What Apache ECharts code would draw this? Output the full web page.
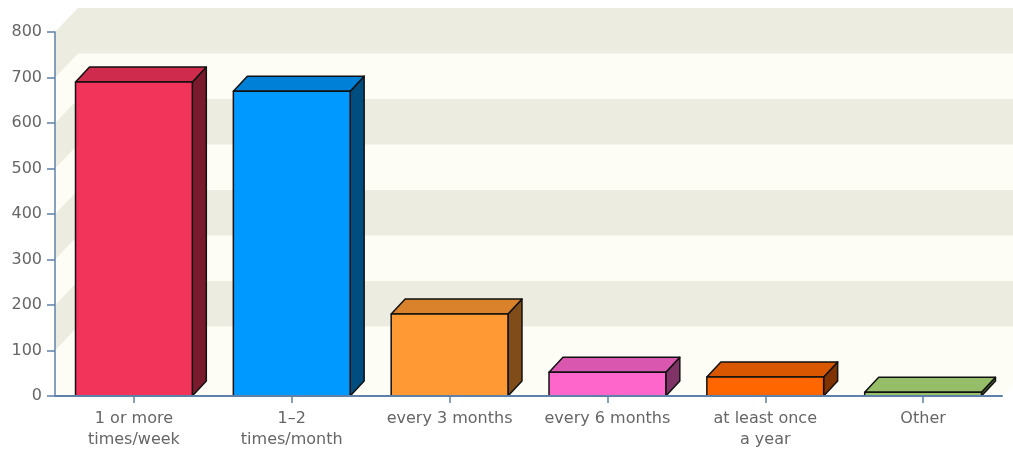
<!DOCTYPE html>
<html>
<head>
<meta charset="utf-8">
<script src="https://cdn.jsdelivr.net/npm/echarts@6/dist/echarts.min.js"></script>
<style>
html,body{margin:0;padding:0;background:#fff;}
#chart{width:1013px;height:454px;}
</style>
</head>
<body>
<div id="chart"></div>
<script>
// ---- data ----
var categories = ['1 or more\ntimes/week', '1\u20132\ntimes/month', 'every 3 months', 'every 6 months', 'at least once\na year', 'Other'];
var values = [690, 670, 180, 52, 42, 8];
var yTicks = [0, 100, 200, 300, 400, 500, 600, 700, 800];

// ---- styles ----
var frontColors = ['#F2335A', '#0099FF', '#FF9933', '#FF66CC', '#FF6600', '#99BF69'];
var topColors   = ['#CF2B4D', '#0080D6', '#D9822B', '#D957AE', '#D95700', '#96BE69'];
var sideColors  = ['#7A1A2D', '#004D80', '#804C1A', '#803366', '#803300', '#4D6035'];
var bandDark = '#ECECE0', bandLight = '#FDFDF5';
var WALL_DX = 23, WALL_DY = -24, BAR_DX = 14, BAR_DY = -15;

var bands = [];
for (var k = 0; k < yTicks.length - 1; k++) bands.push([yTicks[k], yTicks[k + 1], k]);

var chart = echarts.init(document.getElementById('chart'), null, {renderer: 'canvas'});

function renderWall(params, api) {
  var cs = params.coordSys;
  var lo = api.value(0), hi = api.value(1), idx = api.value(2);
  var x0 = cs.x, x1 = cs.x + cs.width;
  var ylo = api.coord([0, lo])[1], yhi = api.coord([0, hi])[1];
  var fill = idx % 2 === 0 ? bandLight : bandDark;
  var children = [];
  if (idx === 0) {
    children.push({type: 'polygon', shape: {points: [[x0, ylo], [x0 + WALL_DX, ylo + WALL_DY], [x1 + WALL_DX, ylo + WALL_DY], [x1, ylo]]}, style: {fill: bandLight}});
  }
  children.push({type: 'rect', shape: {x: x0 + WALL_DX, y: yhi + WALL_DY, width: x1 - x0 + 20, height: ylo - yhi}, style: {fill: fill}});
  children.push({type: 'polygon', shape: {points: [[x0, ylo], [x0, yhi], [x0 + WALL_DX, yhi + WALL_DY], [x0 + WALL_DX, ylo + WALL_DY]]}, style: {fill: fill}});
  return {type: 'group', children: children};
}

function renderBar(params, api) {
  var i = api.value(0), v = api.value(1);
  var top = api.coord([i, v]);
  var bot = api.coord([i, 0]);
  var w = api.size([1, 0])[0] * 0.74;
  var l = top[0] - w / 2, r = top[0] + w / 2;
  var yt = top[1], yb = bot[1];
  var stroke = {stroke: '#111', lineWidth: 1.5, lineJoin: 'round'};
  return {
    type: 'group',
    children: [
      {type: 'polygon', shape: {points: [[r, yt], [r + BAR_DX, yt + BAR_DY], [r + BAR_DX, yb + BAR_DY], [r, yb]]},
        style: Object.assign({fill: sideColors[i]}, stroke)},
      {type: 'polygon', shape: {points: [[l, yt], [l + BAR_DX, yt + BAR_DY], [r + BAR_DX, yt + BAR_DY], [r, yt]]},
        style: Object.assign({fill: topColors[i]}, stroke)},
      {type: 'rect', shape: {x: l, y: yt, width: w, height: yb - yt},
        style: Object.assign({fill: frontColors[i]}, stroke)}
    ]
  };
}

var barData = values.map(function (v, i) { return [i, v]; });

chart.setOption({
  backgroundColor: '#ffffff',
  animation: false,
  grid: {left: 55, right: 11, top: 32, bottom: 58, containLabel: false},
  xAxis: {
    type: 'category',
    data: categories,
    boundaryGap: true,
    axisLine: {show: true, lineStyle: {color: '#5F80A8', width: 2}},
    axisTick: {show: true, alignWithLabel: true, length: 7, lineStyle: {color: '#5F80A8', width: 1.5}},
    axisLabel: {interval: 0, color: '#666', fontSize: 16, fontFamily: 'DejaVu Sans', lineHeight: 21, margin: 12},
    splitLine: {show: false},
    z: 10
  },
  yAxis: {
    type: 'value',
    min: 0, max: 800, interval: 100,
    axisLine: {show: true, lineStyle: {color: '#5F80A8', width: 1.5}},
    axisTick: {show: true, length: 8, lineStyle: {color: '#5F80A8', width: 1.5}},
    axisLabel: {color: '#666', fontSize: 16, fontFamily: 'DejaVu Sans', margin: 13},
    splitLine: {show: false},
    z: 10
  },
  series: [
    {type: 'custom', renderItem: renderWall, data: bands, clip: false, z: 0, silent: true,
      encode: {x: -1, y: [0, 1]}},
    {type: 'custom', renderItem: renderBar, data: barData, clip: false, z: 5,
      encode: {x: 0, y: 1}}
  ]
});
</script>
</body>
</html>
